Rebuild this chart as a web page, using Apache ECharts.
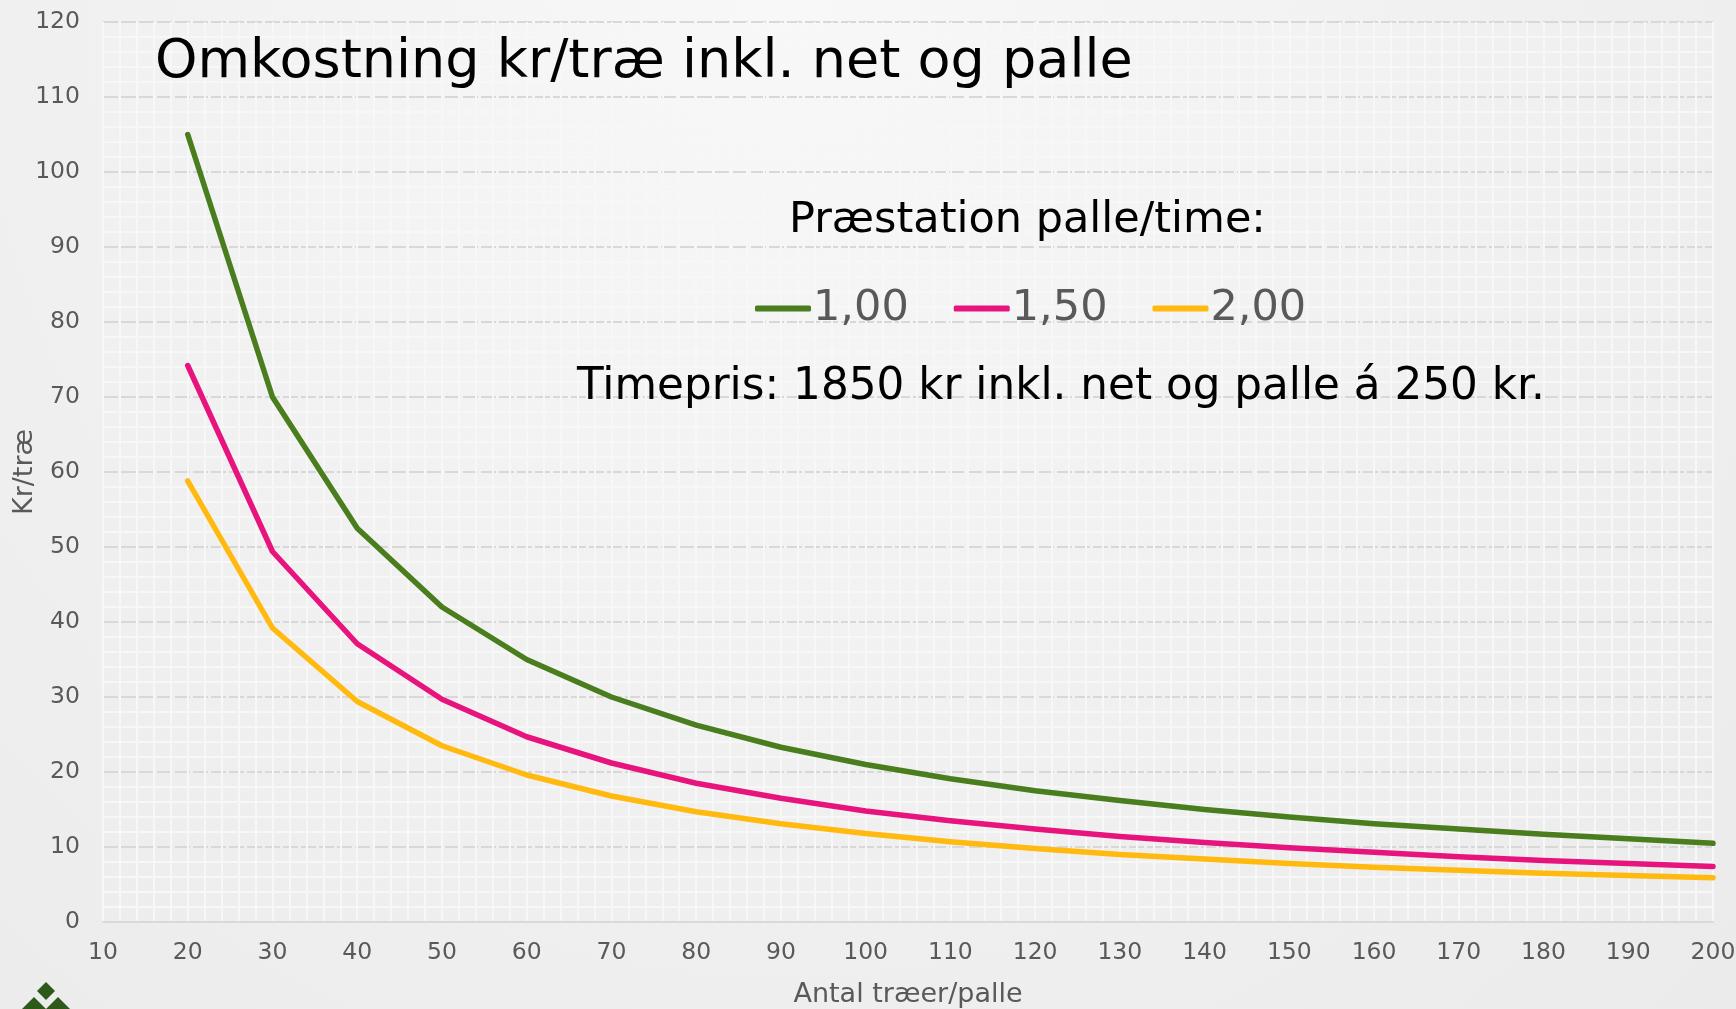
<!DOCTYPE html>
<html>
<head>
<meta charset="utf-8">
<script src="https://cdn.jsdelivr.net/npm/echarts@6/dist/echarts.min.js"></script>
<style>
  html, body { margin: 0; padding: 0; }
  #chart {
    width: 1736px; height: 1009px;
    background: radial-gradient(ellipse at 45% 0%, #f8f8f8 0%, #f0f0f0 55%, #ebebeb 100%);
  }
</style>
</head>
<body>
<div id="chart"></div>
<script>
// antal træer pr. palle
const trees = [20, 30, 40, 50, 60, 70, 80, 90, 100, 110, 120, 130, 140, 150, 160, 170, 180, 190, 200];
// kr/træ ved præstation 1,00 / 1,50 / 2,00 palle pr. time
const cost100 = [105, 70, 52.5, 42, 35, 30, 26.25, 23.3, 21, 19.1, 17.5, 16.2, 15, 14, 13.1, 12.4, 11.7, 11.1, 10.5];
const cost150 = [74.2, 49.4, 37.1, 29.7, 24.7, 21.2, 18.5, 16.5, 14.8, 13.5, 12.4, 11.4, 10.6, 9.9, 9.3, 8.7, 8.2, 7.8, 7.4];
const cost200 = [58.8, 39.2, 29.4, 23.5, 19.6, 16.8, 14.7, 13.1, 11.8, 10.7, 9.8, 9.0, 8.4, 7.8, 7.3, 6.9, 6.5, 6.2, 5.9];
const seriesNames = ['1,00', '1,50', '2,00'];
const colors = ['#4a7d1d', '#e8147d', '#ffb90f'];

const font = 'DejaVu Sans, Verdana, sans-serif';
const chart = echarts.init(document.getElementById('chart'));

function pairs(ys) {
  return trees.map((t, i) => [t, ys[i]]);
}

const allCosts = [cost100, cost150, cost200];

chart.setOption({
  backgroundColor: 'transparent',
  textStyle: { fontFamily: font },
  grid: { left: 103, right: 23, top: 22, bottom: 87, outerBoundsMode: 'none', containLabel: false },
  title: [
    {
      text: 'Omkostning kr/træ inkl. net og palle',
      left: 150, top: 31,
      textStyle: { fontFamily: font, fontSize: 54, fontWeight: 'normal', color: '#000' }
    },
    {
      text: 'Præstation palle/time:',
      left: 784, top: 194,
      textStyle: { fontFamily: font, fontSize: 43, fontWeight: 'normal', color: '#000' }
    },
    {
      text: 'Timepris: 1850 kr inkl. net og palle á 250 kr.',
      left: 572, top: 361,
      textStyle: { fontFamily: font, fontSize: 43.7, fontWeight: 'normal', color: '#000' }
    }
  ],
  legend: {
    left: 750, top: 282,
    icon: 'roundRect',
    itemWidth: 56, itemHeight: 6,
    itemGap: 45,
    textStyle: { fontFamily: font, fontSize: 43, color: '#595959', padding: [0, 0, 0, -3] },
    data: seriesNames
  },
  xAxis: {
    type: 'value',
    min: 10, max: 200, interval: 10,
    name: 'Antal træer/palle',
    nameLocation: 'middle',
    nameGap: 59,
    nameMoveOverlap: false,
    nameTextStyle: { fontSize: 27, color: '#595959' },
    axisLine: { show: true, lineStyle: { color: '#d9d9d9', width: 2 } },
    axisTick: { show: false },
    axisLabel: { fontSize: 23.5, color: '#595959', margin: 19 },
    splitLine: { show: true, lineStyle: { color: '#f7f7f7', width: 2 } },
    minorTick: { show: false, splitNumber: 5 },
    minorSplitLine: { show: true, lineStyle: { color: '#f7f7f7', width: 2 } }
  },
  yAxis: {
    type: 'value',
    min: 0, max: 120, interval: 10,
    name: 'Kr/træ',
    nameLocation: 'middle',
    nameGap: 65,
    nameMoveOverlap: false,
    nameTextStyle: { fontSize: 27, color: '#595959' },
    axisLine: { show: false },
    axisTick: { show: false },
    axisLabel: { fontSize: 23.5, color: '#595959', margin: 23 },
    splitLine: { show: true, lineStyle: { color: '#d8d8d8', width: 2, type: [15, 3] } },
    minorTick: { show: false, splitNumber: 5 },
    minorSplitLine: { show: true, lineStyle: { color: '#f7f7f7', width: 2 } }
  },
  series: seriesNames.map((name, k) => ({
    name: name,
    type: 'line',
    data: pairs(allCosts[k]),
    showSymbol: false,
    symbol: 'none',
    color: colors[k],
    lineStyle: { width: 5.5, color: colors[k], cap: 'round', join: 'round' },
    z: 3 + k
  })),
  graphic: [
    // lille logo nederst til venstre (delvist afskåret)
    { type: 'polygon', shape: { points: [[46, 982], [55, 991], [46, 1000], [37, 991]] }, style: { fill: '#2d5a1b' } },
    { type: 'polygon', shape: { points: [[34, 997], [46, 1009], [34, 1021], [22, 1009]] }, style: { fill: '#2d5a1b' } },
    { type: 'polygon', shape: { points: [[58, 997], [70, 1009], [58, 1021], [46, 1009]] }, style: { fill: '#2d5a1b' } }
  ]
});
</script>
</body>
</html>
